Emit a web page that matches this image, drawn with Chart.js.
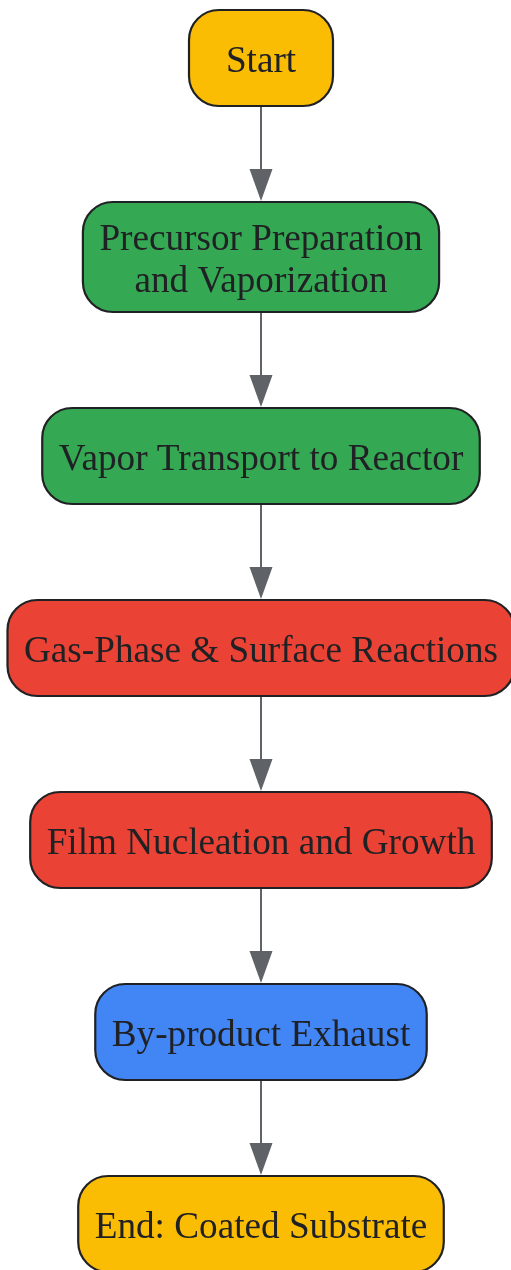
<!DOCTYPE html>
<html><head><meta charset="utf-8">
<script src="https://cdn.jsdelivr.net/npm/chart.js@4/dist/chart.umd.min.js"></script>
<style>html,body{margin:0;padding:0;background:#fff;}#wrap{width:511px;height:1270px;}</style>
</head><body><div id="wrap"><canvas id="c" width="511" height="1270"></canvas></div>
<script>
// ---- data ----
const steps = [
  ['Start'],
  ['Precursor Preparation', 'and Vaporization'],
  ['Vapor Transport to Reactor'],
  ['Gas-Phase & Surface Reactions'],
  ['Film Nucleation and Growth'],
  ['By-product Exhaust'],
  ['End: Coated Substrate']
];
const stages = ['terminal', 'prep', 'prep', 'reaction', 'reaction', 'exhaust', 'terminal'];

// ---- style / layout ----
const stageColors = { terminal: '#FBBC04', prep: '#34A853', reaction: '#EA4335', exhaust: '#4285F4' };
const FONT = '37.2px "Liberation Serif", "Times New Roman", serif';
const LAYOUT = { top: 10, gap: 96, baseH: 96, lineExtra: 14, lineH: 42, padX: 16.5, minW: 144, radius: 30, cx: 261, textDy: 14 };

// compute node boxes in axis (data) units
const nodes = [];
(function(){
  let y = LAYOUT.top;
  steps.forEach((lines, i) => {
    const h = LAYOUT.baseH + LAYOUT.lineExtra * (lines.length - 1);
    nodes.push({ lines, stage: stages[i], y0: y, y1: y + h, cy: y + h / 2 });
    y += h + LAYOUT.gap;
  });
})();

function rr(ctx, x, y, w, h, r) {
  ctx.beginPath();
  ctx.moveTo(x + r, y);
  ctx.lineTo(x + w - r, y);
  ctx.arcTo(x + w, y, x + w, y + r, r);
  ctx.lineTo(x + w, y + h - r);
  ctx.arcTo(x + w, y + h, x + w - r, y + h, r);
  ctx.lineTo(x + r, y + h);
  ctx.arcTo(x, y + h, x, y + h - r, r);
  ctx.lineTo(x, y + r);
  ctx.arcTo(x, y, x + r, y, r);
  ctx.closePath();
}

const flowPlugin = {
  id: 'flow',
  afterDatasetsDraw(chart) {
    const ctx = chart.ctx, xs = chart.scales.x, ys = chart.scales.y;
    ctx.save();
    ctx.font = FONT;
    // arrows
    for (let i = 0; i < nodes.length - 1; i++) {
      const px = xs.getPixelForValue(LAYOUT.cx);
      const a = ys.getPixelForValue(nodes[i].y1);
      const b = ys.getPixelForValue(nodes[i + 1].y0);
      ctx.strokeStyle = '#5F6368';
      ctx.fillStyle = '#5F6368';
      ctx.lineWidth = 2;
      ctx.beginPath();
      ctx.moveTo(px, a);
      ctx.lineTo(px, b - 28);
      ctx.stroke();
      ctx.beginPath();
      ctx.moveTo(px - 11.5, b - 33);
      ctx.lineTo(px + 11.5, b - 33);
      ctx.lineTo(px, b - 1);
      ctx.closePath();
      ctx.fill();
    }
    // boxes
    nodes.forEach(n => {
      const tw = Math.max(...n.lines.map(l => ctx.measureText(l).width));
      const w = Math.max(tw + 2 * LAYOUT.padX, LAYOUT.minW);
      const left = xs.getPixelForValue(LAYOUT.cx - w / 2);
      const right = xs.getPixelForValue(LAYOUT.cx + w / 2);
      const top = ys.getPixelForValue(n.y0);
      const bot = ys.getPixelForValue(n.y1);
      rr(ctx, left, top, right - left, bot - top, LAYOUT.radius);
      ctx.fillStyle = stageColors[n.stage];
      ctx.fill();
      ctx.lineWidth = 2.2;
      ctx.strokeStyle = '#202124';
      ctx.stroke();
      ctx.fillStyle = '#202124';
      ctx.textAlign = 'center';
      ctx.textBaseline = 'alphabetic';
      const cy = ys.getPixelForValue(n.cy);
      const cx = xs.getPixelForValue(LAYOUT.cx);
      n.lines.forEach((l, k) => {
        const off = (k - (n.lines.length - 1) / 2) * LAYOUT.lineH;
        ctx.fillText(l, cx, cy + off + LAYOUT.textDy);
      });
    });
    ctx.restore();
  }
};

new Chart(document.getElementById('c'), {
  type: 'scatter',
  data: {
    datasets: [{
      label: 'Steps',
      data: nodes.map(n => ({ x: LAYOUT.cx, y: n.cy })),
      pointRadius: 0
    }]
  },
  options: {
    responsive: false,
    animation: false,
    events: [],
    layout: { padding: 0 },
    plugins: { legend: { display: false }, tooltip: { enabled: false } },
    scales: {
      x: { type: 'linear', min: 0, max: 511, display: false },
      y: { type: 'linear', min: 0, max: 1270, reverse: true, display: false }
    }
  },
  plugins: [flowPlugin]
});
</script>
</body></html>
